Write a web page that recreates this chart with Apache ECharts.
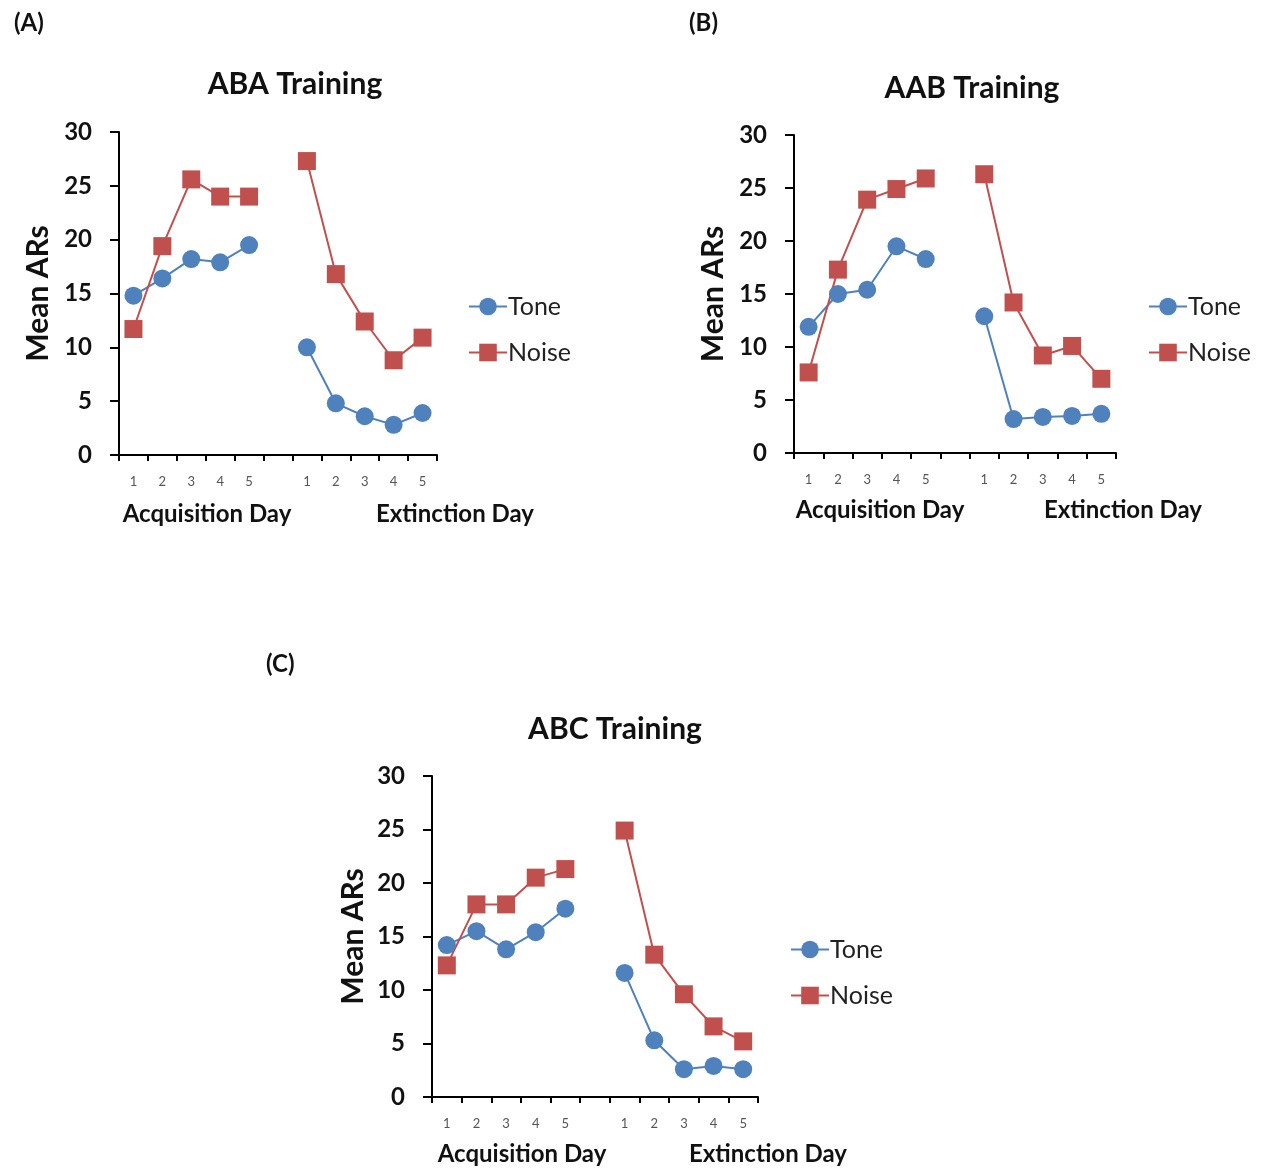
<!DOCTYPE html>
<html>
<head>
<meta charset="utf-8">
<script src="https://cdn.jsdelivr.net/npm/echarts@6/dist/echarts.min.js"></script>
<style>
    html, body { margin: 0; padding: 0; background: #fff; }
    #chart { width: 1261px; height: 1171px; }
</style>
</head>
<body>
<div id="chart"></div>
<script>
// day labels: 5 acquisition days, an empty gap slot, 5 extinction days
const dayLabels = ['1', '2', '3', '4', '5', '', '1', '2', '3', '4', '5'];
const yTicks = [0, 5, 10, 15, 20, 25, 30];
const seriesNames = ['Tone', 'Noise'];

// (A) ABA Training
const abaToneAcq = [14.8, 16.4, 18.2, 17.9, 19.5];
const abaToneExt = [10.0, 4.8, 3.6, 2.8, 3.9];
const abaNoiseAcq = [11.7, 19.4, 25.6, 24.0, 24.0];
const abaNoiseExt = [27.3, 16.8, 12.4, 8.8, 10.9];

// (B) AAB Training
const aabToneAcq = [11.9, 15.0, 15.4, 19.5, 18.3];
const aabToneExt = [12.9, 3.2, 3.4, 3.5, 3.7];
const aabNoiseAcq = [7.6, 17.3, 23.9, 24.9, 25.9];
const aabNoiseExt = [26.3, 14.2, 9.2, 10.1, 7.0];

// (C) ABC Training
const abcToneAcq = [14.2, 15.5, 13.8, 15.4, 17.6];
const abcToneExt = [11.6, 5.3, 2.6, 2.9, 2.6];
const abcNoiseAcq = [12.3, 18.0, 18.0, 20.5, 21.3];
const abcNoiseExt = [24.9, 13.3, 9.6, 6.6, 5.2];

const font = 'Lato, "Open Sans", sans-serif';
const toneColor = '#4F81BD';
const noiseColor = '#C0504D';

// joins acquisition + gap + extinction so the line breaks in the middle
function joinDays(acq, ext) {
    return acq.concat([null], ext);
}

const panels = [
    {
        tag: '(A)', title: 'ABA Training',
        tone: joinDays(abaToneAcq, abaToneExt), noise: joinDays(abaNoiseAcq, abaNoiseExt),
        grid: { left: 119, top: 132, width: 318, height: 323 },
        tagPos: [9, 6], titlePos: [290, 64], legendPos: [463, 289],
        acqPos: [207, 514], extPos: [455, 514], nameGap: 66
    },
    {
        tag: '(B)', title: 'AAB Training',
        tone: joinDays(aabToneAcq, aabToneExt), noise: joinDays(aabNoiseAcq, aabNoiseExt),
        grid: { left: 794, top: 135, width: 322, height: 318 },
        tagPos: [684, 6], titlePos: [967, 68], legendPos: [1143, 289],
        acqPos: [880, 510], extPos: [1123, 510], nameGap: 66
    },
    {
        tag: '(C)', title: 'ABC Training',
        tone: joinDays(abcToneAcq, abcToneExt), noise: joinDays(abcNoiseAcq, abcNoiseExt),
        grid: { left: 432, top: 776, width: 326, height: 321 },
        tagPos: [261, 647], titlePos: [610, 709], legendPos: [785, 932],
        acqPos: [522, 1154], extPos: [768, 1154], nameGap: 64
    }
];

const myChart = echarts.init(document.getElementById('chart'));

let option = {
    backgroundColor: '#fff',
    animation: false,
    title: [],
    legend: [],
    grid: [],
    xAxis: [],
    yAxis: [],
    series: [],
    graphic: []
};

panels.forEach(function (p, i) {
    option.title.push({
        text: p.tag, left: p.tagPos[0], top: p.tagPos[1],
        textStyle: { fontFamily: font, fontSize: 24, fontWeight: 'bold', color: '#111' }
    });
    option.title.push({
        text: p.title, left: p.titlePos[0], top: p.titlePos[1], textAlign: 'center',
        textStyle: { fontFamily: font, fontSize: 30, fontWeight: 'bold', color: '#111' }
    });
    option.grid.push(Object.assign({ containLabel: false }, p.grid));
    option.xAxis.push({
        type: 'category',
        gridIndex: i,
        data: dayLabels,
        boundaryGap: true,
        axisLine: { lineStyle: { color: '#000', width: 2 } },
        axisTick: { show: true, interval: 0, length: 6, lineStyle: { color: '#000', width: 2 } },
        axisLabel: { interval: 0, margin: 20, fontFamily: font, fontSize: 13, color: '#555' },
        splitLine: { show: false }
    });
    option.yAxis.push({
        type: 'value',
        gridIndex: i,
        min: yTicks[0],
        max: yTicks[yTicks.length - 1],
        interval: 5,
        name: 'Mean ARs',
        nameLocation: 'middle',
        nameGap: p.nameGap,
        nameTextStyle: { fontFamily: font, fontSize: 30, fontWeight: 'bold', color: '#111' },
        axisLine: { show: true, lineStyle: { color: '#000', width: 2 } },
        axisTick: { show: true, length: 9, lineStyle: { color: '#000', width: 2 } },
        axisLabel: { margin: 27, fontFamily: font, fontSize: 24, fontWeight: 'bold', color: '#111' },
        splitLine: { show: false }
    });
    option.series.push({
        name: seriesNames[0], type: 'line', xAxisIndex: i, yAxisIndex: i,
        data: p.tone, symbol: 'circle', symbolSize: 18,
        itemStyle: { color: toneColor }, lineStyle: { color: toneColor, width: 2 }
    });
    option.series.push({
        name: seriesNames[1], type: 'line', xAxisIndex: i, yAxisIndex: i,
        data: p.noise, symbol: 'rect', symbolSize: 18,
        itemStyle: { color: noiseColor }, lineStyle: { color: noiseColor, width: 2 }
    });
    option.legend.push({
        data: seriesNames, orient: 'vertical', left: p.legendPos[0], top: p.legendPos[1],
        itemWidth: 38, itemHeight: 22, itemGap: 21, selectedMode: false,
        textStyle: { fontFamily: font, fontSize: 25, color: '#222', padding: [0, 0, 0, -4] }
    });
    option.graphic.push({
        type: 'text', x: p.acqPos[0], y: p.acqPos[1],
        style: {
            text: 'Acquisition Day', align: 'center', verticalAlign: 'middle',
            font: 'bold 24px ' + font, fill: '#111'
        }
    });
    option.graphic.push({
        type: 'text', x: p.extPos[0], y: p.extPos[1],
        style: {
            text: 'Extinction Day', align: 'center', verticalAlign: 'middle',
            font: 'bold 24px ' + font, fill: '#111'
        }
    });
});

myChart.setOption(option);
</script>
</body>
</html>
